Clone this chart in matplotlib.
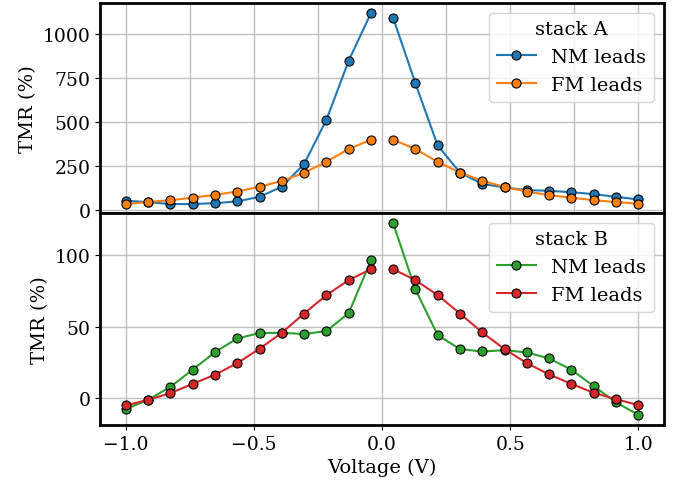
import numpy as np
import matplotlib
matplotlib.use("Agg")
import matplotlib.pyplot as plt

plt.rcParams['font.family'] = 'DejaVu Serif'
plt.rcParams['font.size'] = 14
plt.rcParams['xtick.labelsize'] = 13.5
plt.rcParams['ytick.labelsize'] = 13.5
plt.rcParams['axes.linewidth'] = 2

# bias voltages (no point at 0 V)
volt = [-1.0, -0.913, -0.826, -0.739, -0.652, -0.565, -0.478, -0.391, -0.304, -0.217, -0.130, -0.043,
        0.043, 0.130, 0.217, 0.304, 0.391, 0.478, 0.565, 0.652, 0.739, 0.826, 0.913, 1.0]

# stack A
a_nm = [55, 47, 36, 36, 41, 51, 77, 134, 263, 513, 848, 1118,
        1092, 720, 368, 214, 150, 130, 115, 111, 103, 92, 77, 62]
a_fm = [36, 47, 58, 72, 88, 107, 134, 167, 213, 275, 348, 400,
        400, 348, 275, 214, 168, 133, 107, 86, 72, 58, 47, 38]

# stack B
b_nm = [-7.7, -1.2, 7.9, 19.9, 32.2, 41.8, 45.6, 45.8, 44.9, 47.0, 59.6, 96.7,
        122.7, 76.2, 44.2, 34.3, 32.7, 33.6, 32.0, 27.8, 19.9, 8.4, -3.0, -11.7]
b_fm = [-5.1, -1.2, 3.5, 10.0, 16.4, 24.5, 34.6, 45.8, 59.3, 72.2, 82.7, 90.4,
        90.4, 82.7, 72.2, 59.3, 46.0, 34.3, 24.5, 16.6, 10.0, 3.7, -0.7, -4.9]

fig = plt.figure(figsize=(6.81, 4.85), dpi=100)
ax1 = fig.add_axes([0.147, 0.559, 0.828, 0.433])
ax2 = fig.add_axes([0.147, 0.122, 0.828, 0.437])

v = np.array(volt)
neg = v < 0
pos = v > 0


def draw(ax, y, color, label):
    y = np.array(y)
    kw = dict(color=color, marker='o', markersize=6.5, markeredgecolor='black',
              markeredgewidth=0.8, linewidth=1.5)
    ax.plot(v[neg], y[neg], label=label, **kw)
    ax.plot(v[pos], y[pos], **kw)


draw(ax1, a_nm, 'tab:blue', 'NM leads')
draw(ax1, a_fm, 'tab:orange', 'FM leads')
draw(ax2, b_nm, 'tab:green', 'NM leads')
draw(ax2, b_fm, 'tab:red', 'FM leads')

for ax in (ax1, ax2):
    ax.set_xlim(-1.1, 1.1)
    ax.grid(True, color='#c0c0c0', linewidth=1)
    ax.set_axisbelow(True)
    ax.set_ylabel('TMR (%)')

ax1.set_xticks(np.arange(-1.0, 1.01, 0.25))
ax1.tick_params(labelbottom=False)
ax1.set_yticks([0, 250, 500, 750, 1000])
ax1.set_ylim(-14, 1175)

ax2.set_xticks([-1.0, -0.5, 0.0, 0.5, 1.0])
ax2.set_yticks([0, 50, 100])
ax2.set_ylim(-18.7, 129.8)
ax2.set_xlabel('Voltage (V)')

ax1.legend(title='stack A', loc='upper right', fontsize=14, title_fontsize=14)
ax2.legend(title='stack B', loc='upper right', fontsize=14, title_fontsize=14)

fig.savefig('out.png', dpi=100)
